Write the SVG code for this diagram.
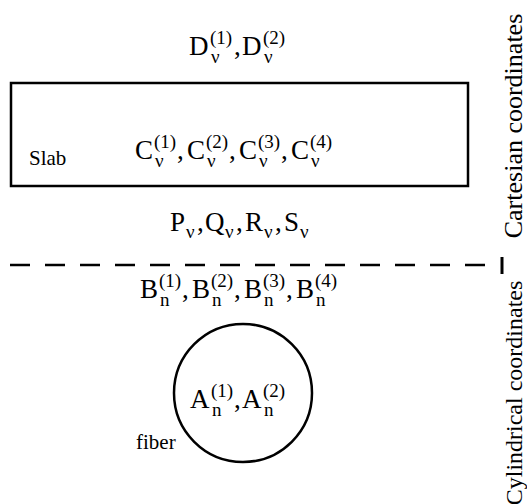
<svg xmlns="http://www.w3.org/2000/svg" width="527" height="504" viewBox="0 0 527 504">
<g id="connectors" stroke="#000" fill="none">
<line x1="10" y1="265" x2="492" y2="265" stroke-width="2.5" stroke-dasharray="20 15"/>
<line x1="502" y1="257" x2="502" y2="274" stroke-width="3"/>
</g>
<g id="D">
<text x="189" y="55" font-family="Liberation Serif" font-size="27">D</text><text x="210" y="44" font-family="Liberation Serif" font-size="19">(1)</text><text x="211" y="63" font-family="Liberation Serif" font-size="19">&#957;</text>
<text x="234" y="55" font-family="Liberation Serif" font-size="27">,</text>
<text x="242" y="55" font-family="Liberation Serif" font-size="27">D</text><text x="263" y="44" font-family="Liberation Serif" font-size="19">(2)</text><text x="264" y="63" font-family="Liberation Serif" font-size="19">&#957;</text>
</g>
<g id="slab">
<rect x="11" y="83" width="457" height="103" fill="none" stroke="#000" stroke-width="2.5"/>
<text x="29" y="165" font-family="Liberation Serif" font-size="21">Slab</text>
<text x="135" y="159" font-family="Liberation Serif" font-size="27">C</text><text x="154" y="148" font-family="Liberation Serif" font-size="19">(1)</text><text x="155" y="167" font-family="Liberation Serif" font-size="19">&#957;</text><text x="177" y="159" font-family="Liberation Serif" font-size="27">,</text>
<text x="187" y="159" font-family="Liberation Serif" font-size="27">C</text><text x="206" y="148" font-family="Liberation Serif" font-size="19">(2)</text><text x="207" y="167" font-family="Liberation Serif" font-size="19">&#957;</text><text x="229" y="159" font-family="Liberation Serif" font-size="27">,</text>
<text x="239" y="159" font-family="Liberation Serif" font-size="27">C</text><text x="258" y="148" font-family="Liberation Serif" font-size="19">(3)</text><text x="259" y="167" font-family="Liberation Serif" font-size="19">&#957;</text><text x="281" y="159" font-family="Liberation Serif" font-size="27">,</text>
<text x="291" y="159" font-family="Liberation Serif" font-size="27">C</text><text x="310" y="148" font-family="Liberation Serif" font-size="19">(4)</text><text x="311" y="167" font-family="Liberation Serif" font-size="19">&#957;</text>
</g>
<g id="PQRS">
<text x="170" y="231" font-family="Liberation Serif" font-size="27">P</text><text x="186" y="238" font-family="Liberation Serif" font-size="19">&#957;</text><text x="197" y="231" font-family="Liberation Serif" font-size="27">,</text>
<text x="205" y="231" font-family="Liberation Serif" font-size="27">Q</text><text x="225" y="238" font-family="Liberation Serif" font-size="19">&#957;</text><text x="236" y="231" font-family="Liberation Serif" font-size="27">,</text>
<text x="245" y="231" font-family="Liberation Serif" font-size="27">R</text><text x="264" y="238" font-family="Liberation Serif" font-size="19">&#957;</text><text x="275" y="231" font-family="Liberation Serif" font-size="27">,</text>
<text x="284" y="231" font-family="Liberation Serif" font-size="27">S</text><text x="300" y="238" font-family="Liberation Serif" font-size="19">&#957;</text>
</g>
<g id="B">
<text x="140" y="298" font-family="Liberation Serif" font-size="27">B</text><text x="159" y="287" font-family="Liberation Serif" font-size="19">(1)</text><text x="160" y="306" font-family="Liberation Serif" font-size="19">n</text><text x="182" y="298" font-family="Liberation Serif" font-size="27">,</text>
<text x="192" y="298" font-family="Liberation Serif" font-size="27">B</text><text x="211" y="287" font-family="Liberation Serif" font-size="19">(2)</text><text x="212" y="306" font-family="Liberation Serif" font-size="19">n</text><text x="234" y="298" font-family="Liberation Serif" font-size="27">,</text>
<text x="244" y="298" font-family="Liberation Serif" font-size="27">B</text><text x="263" y="287" font-family="Liberation Serif" font-size="19">(3)</text><text x="264" y="306" font-family="Liberation Serif" font-size="19">n</text><text x="286" y="298" font-family="Liberation Serif" font-size="27">,</text>
<text x="296" y="298" font-family="Liberation Serif" font-size="27">B</text><text x="315" y="287" font-family="Liberation Serif" font-size="19">(4)</text><text x="316" y="306" font-family="Liberation Serif" font-size="19">n</text>
</g>
<g id="fiber">
<circle cx="243" cy="393" r="69" fill="none" stroke="#000" stroke-width="2.5"/>
<text x="190" y="408" font-family="Liberation Serif" font-size="27">A</text><text x="211" y="397" font-family="Liberation Serif" font-size="19">(1)</text><text x="212" y="416" font-family="Liberation Serif" font-size="19">n</text><text x="234" y="408" font-family="Liberation Serif" font-size="27">,</text>
<text x="242" y="408" font-family="Liberation Serif" font-size="27">A</text><text x="263" y="397" font-family="Liberation Serif" font-size="19">(2)</text><text x="264" y="416" font-family="Liberation Serif" font-size="19">n</text>
<text x="136" y="449" font-family="Liberation Serif" font-size="21">fiber</text>
</g>
<g id="axis-labels">
<text x="0" y="0" font-family="Liberation Serif" font-size="26" text-anchor="middle" transform="translate(522,126) rotate(-90)">Cartesian coordinates</text>
<text x="0" y="0" font-family="Liberation Serif" font-size="24" text-anchor="middle" transform="translate(522,393) rotate(-90)">Cylindrical coordinates</text>
</g>
</svg>
